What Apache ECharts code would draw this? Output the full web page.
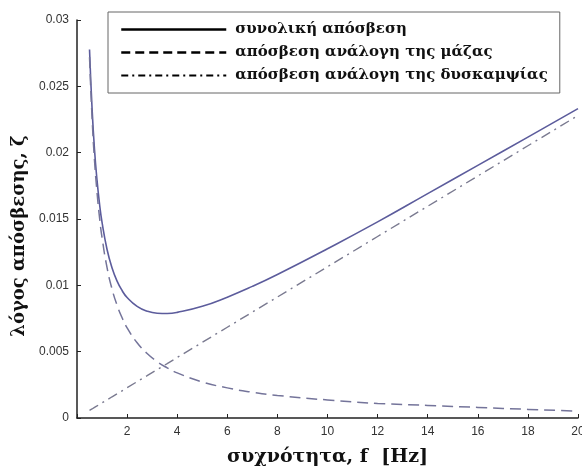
<!DOCTYPE html>
<html>
<head>
<meta charset="utf-8">
<title>damping</title>
<script src="https://cdn.jsdelivr.net/npm/echarts@6/dist/echarts.min.js"></script>
<style>
html,body{margin:0;padding:0;background:#fff;}
#main{width:582px;height:470px;}
</style>
</head>
<body>
<div id="main"></div>
<script>
// συχνότητα f [Hz]
var freq  = [0.5, 0.6, 0.7, 0.8, 0.9, 1.0, 1.2, 1.4, 1.6, 1.8, 2.0, 2.4, 2.8, 3.2, 3.6, 4.0, 5, 6, 7, 8, 10, 12, 14, 16, 18, 20];
// απόσβεση ανάλογη της μάζας
var mass  = [0.0272, 0.0227, 0.0194, 0.0170, 0.0151, 0.0136, 0.01133, 0.00971, 0.0085, 0.00756, 0.0068, 0.00567, 0.00486, 0.00425, 0.00378, 0.0034, 0.00272, 0.00227, 0.00194, 0.0017, 0.00136, 0.0011, 0.00095, 0.0008, 0.00065, 0.00052];
// απόσβεση ανάλογη της δυσκαμψίας
var stiff = [0.00057, 0.00068, 0.0008, 0.00091, 0.00103, 0.00114, 0.00137, 0.0016, 0.00182, 0.00205, 0.00228, 0.00274, 0.00319, 0.00365, 0.0041, 0.00456, 0.0057, 0.00684, 0.00798, 0.00912, 0.0114, 0.01368, 0.01596, 0.01824, 0.02052, 0.0228];
// συνολική απόσβεση
var total = [0.02777, 0.02338, 0.0202, 0.01791, 0.01613, 0.01474, 0.0127, 0.01131, 0.01032, 0.00961, 0.00908, 0.00841, 0.00805, 0.0079, 0.00788, 0.00796, 0.00842, 0.00911, 0.00992, 0.01082, 0.01276, 0.01478, 0.01691, 0.01904, 0.02117, 0.02332];

var names = ['συνολική απόσβεση', 'απόσβεση ανάλογη της μάζας', 'απόσβεση ανάλογη της δυσκαμψίας'];

function pairs(vals) {
    return freq.map(function (f, i) { return [f, vals[i]]; });
}

var serif = '"DejaVu Serif", "Liberation Serif", serif';
var chart = echarts.init(document.getElementById('main'));

var option = {
    backgroundColor: '#fff',
    animation: false,
    grid: { left: 77, right: 4, top: 20, bottom: 52, outerBoundsMode: 'none' },
    legend: {
        orient: 'vertical',
        left: 108,
        top: 12,
        itemWidth: 105,
        itemHeight: 12,
        itemGap: 8,
        padding: [10, 12, 10, 12],
        borderColor: '#666',
        borderWidth: 1,
        backgroundColor: '#fff',
        itemStyle: { opacity: 0 },
        textStyle: { fontFamily: serif, fontWeight: 'bold', fontSize: 15, color: '#111', padding: [0, 0, 0, 4] },
        data: [
            { name: names[0], lineStyle: { color: '#000', width: 2.5, type: 'solid' } },
            { name: names[1], lineStyle: { color: '#000', width: 2.5, type: [9, 5] } },
            { name: names[2], lineStyle: { color: '#000', width: 2, type: [7, 4, 2, 4] } }
        ]
    },
    xAxis: {
        type: 'value',
        min: 0,
        max: 20,
        interval: 2,
        name: 'συχνότητα, f  [Hz]',
        nameLocation: 'middle',
        nameGap: 30,
        nameTextStyle: { fontFamily: serif, fontWeight: 'bold', fontSize: 19, color: '#111' },
        axisLine: { lineStyle: { color: '#222', width: 1.5 } },
        axisTick: { inside: true, length: 4, lineStyle: { color: '#222' } },
        axisLabel: {
            color: '#333', fontSize: 12, fontFamily: 'Arial, "Liberation Sans", sans-serif', margin: 8,
            formatter: function (v) { return v === 0 ? '' : v; }
        },
        splitLine: { show: false }
    },
    yAxis: {
        type: 'value',
        min: 0,
        max: 0.03,
        interval: 0.005,
        name: 'λόγος απόσβεσης, ζ',
        nameLocation: 'middle',
        nameGap: 46,
        nameTextStyle: { fontFamily: serif, fontWeight: 'bold', fontSize: 18, color: '#111', padding: [0, 34, 0, 0] },
        axisLine: { show: true, lineStyle: { color: '#222', width: 1.5 } },
        axisTick: { show: true, inside: true, length: 4, lineStyle: { color: '#222' } },
        axisLabel: { color: '#333', fontSize: 12, fontFamily: 'Arial, "Liberation Sans", sans-serif', margin: 8 },
        splitLine: { show: false }
    },
    series: [
        {
            name: names[0], type: 'line', symbol: 'none', smooth: true,
            lineStyle: { color: '#5c5c9c', width: 1.6 },
            itemStyle: { color: '#5c5c9c' },
            data: pairs(total)
        },
        {
            name: names[1], type: 'line', symbol: 'none', smooth: true,
            lineStyle: { color: '#74749a', width: 1.5, type: [11, 6] },
            itemStyle: { color: '#74749a' },
            data: pairs(mass)
        },
        {
            name: names[2], type: 'line', symbol: 'none',
            lineStyle: { color: '#7a7a90', width: 1.4, type: [10, 5, 2, 5] },
            itemStyle: { color: '#7a7a90' },
            data: pairs(stiff)
        }
    ]
};

chart.setOption(option);
</script>
</body>
</html>
